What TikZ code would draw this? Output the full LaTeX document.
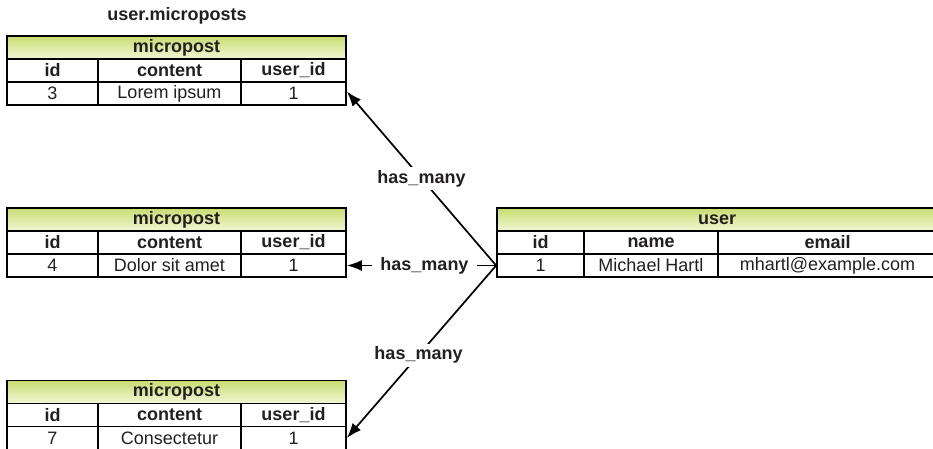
\documentclass[tikz,border=0pt]{standalone}
\usepackage{fontspec}
\setmainfont{Liberation Sans}
\usetikzlibrary{arrows.meta}
\definecolor{txt}{RGB}{35,31,32}
\definecolor{hdtop}{RGB}{200,220,112}
\definecolor{hdbot}{RGB}{242,247,214}
\tikzset{
  cell/.style={draw=black, line width=1.7pt, minimum height=23pt, inner sep=0pt, font=\fontsize{18}{20}\selectfont, text=txt},
  hcell/.style={cell, font=\fontsize{18}{20}\selectfont\bfseries},
  hdr/.style={hcell, top color=hdtop, bottom color=hdbot},
  arr/.style={draw=black, line width=1.7pt, -{Latex[length=15pt,width=11pt,fill=black]}},
  lbl/.style={fill=white, inner xsep=8pt, inner ysep=3pt, font=\fontsize{18}{20}\selectfont\bfseries, text=txt},
}
\newcommand\mptable[4]{%
  \node[hdr, minimum width=339pt] (#1h) at (176.5,{#2+11.5}) {micropost};
  \node[hcell, minimum width=91pt] (#1c1) at (52.5,{#2+34.5}) {id};
  \node[hcell, minimum width=143pt] (#1c2) at (169.5,{#2+34.5}) {content};
  \node[hcell, minimum width=105pt] (#1c3) at (293.5,{#2+34.5}) {user\_id};
  \node[cell, minimum width=91pt] (#1d1) at (52.5,{#2+57.5}) {#3};
  \node[cell, minimum width=143pt] (#1d2) at (169.5,{#2+57.5}) {#4};
  \node[cell, minimum width=105pt] (#1d3) at (293.5,{#2+57.5}) {1};
}
\begin{document}
\begin{tikzpicture}[x=1pt,y=-1pt]
\useasboundingbox (0,0) rectangle (933,448);
\clip (0,0) rectangle (933,448);
\node[font=\fontsize{18}{20}\selectfont\bfseries, text=txt] (title) at (177,16) {user.microposts};
\mptable{a}{36}{3}{Lorem ipsum}
\mptable{b}{208}{4}{Dolor sit amet}
\mptable{c}{380.5}{7}{Consectetur}
% user table
\node[hdr, minimum width=440pt] (uh) at (717,219.5) {user};
\node[hcell, minimum width=87pt] (uc1) at (540.5,242.5) {id};
\node[hcell, minimum width=134pt] (uc2) at (651,242.5) {name};
\node[hcell, minimum width=219pt] (uc3) at (827.5,242.5) {email};
\node[cell, minimum width=87pt] (ud1) at (540.5,265.5) {1};
\node[cell, minimum width=134pt] (ud2) at (651,265.5) {Michael Hartl};
\node[cell, minimum width=219pt] (ud3) at (827.5,265.5) {mhartl@example.com};
% connectors
\draw[arr] (ud1.west) -- node[lbl, pos=0.5] {has\_many} ([yshift=2pt]ad3.east);
\draw[arr] (ud1.west) -- node[lbl, pos=0.48] {has\_many} (bd3.east);
\draw[arr] (ud1.west) -- node[lbl, pos=0.52] {has\_many} (cd3.east);
\end{tikzpicture}
\end{document}
